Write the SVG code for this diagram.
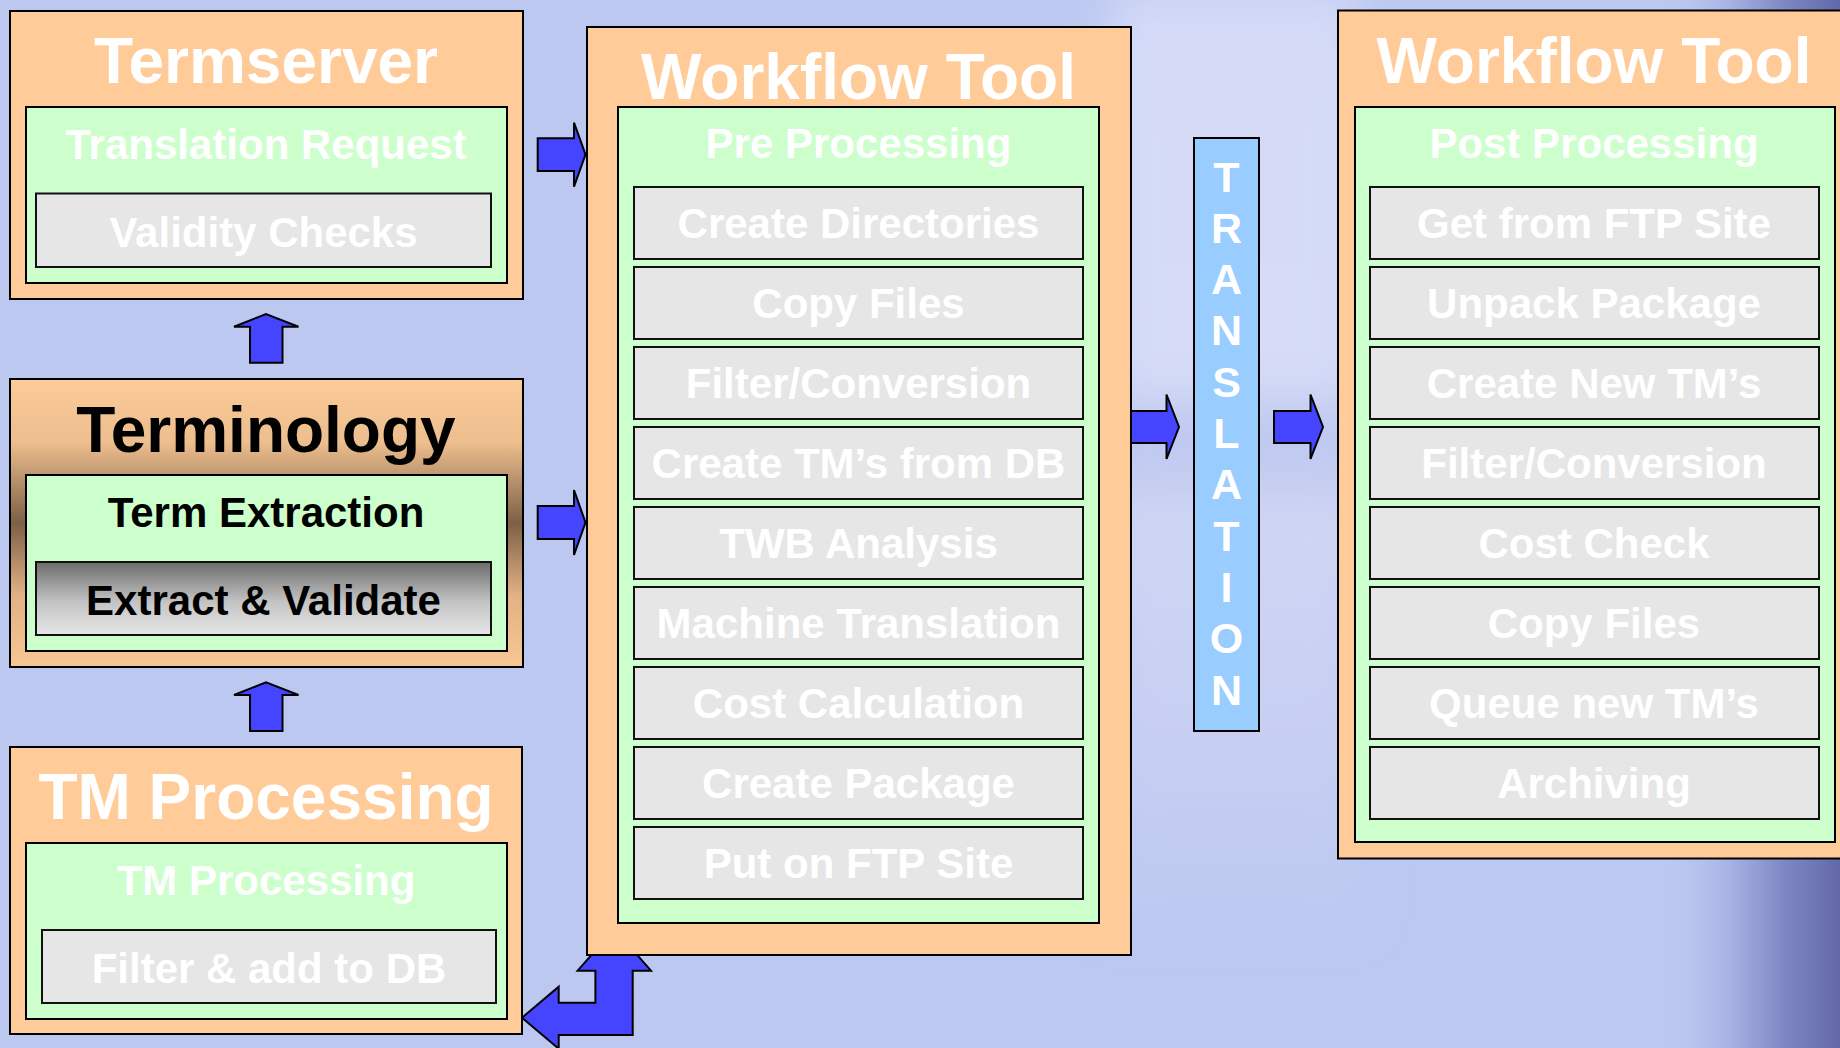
<svg xmlns="http://www.w3.org/2000/svg" width="1840" height="1048" viewBox="0 0 1840 1048">
  <defs>
    <style>
      text { font-family: "Liberation Sans", Arial, sans-serif; font-weight: bold; text-anchor: middle; }
      .outer { fill: #FFCC99; stroke: #000; stroke-width: 2; }
      .inner { fill: #CCFFCC; stroke: #000; stroke-width: 2; }
      .step { fill: #E6E6E6; stroke: #111; stroke-width: 2; }
      .title { font-size: 64px; fill: #FFFFFF; }
      .sub { font-size: 42px; fill: #FFFFFF; }
      .dark { fill: #000000; }
      .arrow { fill: #4545FF; stroke: #000; stroke-width: 2; stroke-linejoin: miter; }
      .vert { font-size: 43px; fill: #FFFFFF; }
    </style>
    <linearGradient id="termGrad" x1="0" y1="0" x2="0" y2="1">
      <stop offset="0" stop-color="#FBCB98"/>
      <stop offset="0.22" stop-color="#EDBE8E"/>
      <stop offset="0.5" stop-color="#7D6047"/>
      <stop offset="0.75" stop-color="#E2B184"/>
      <stop offset="1" stop-color="#F7C794"/>
    </linearGradient>
    <linearGradient id="extractGrad" x1="0" y1="0" x2="0" y2="1">
      <stop offset="0" stop-color="#6C6C6C"/>
      <stop offset="0.55" stop-color="#C4C4C4"/>
      <stop offset="1" stop-color="#E6E6E6"/>
    </linearGradient>
    <linearGradient id="skyBand" x1="0" y1="0" x2="0" y2="1">
      <stop offset="0" stop-color="#C8D0F4"/>
      <stop offset="0.04" stop-color="#D5DBF7"/>
      <stop offset="0.43" stop-color="#D6DCF7"/>
      <stop offset="0.47" stop-color="#BDC7EF"/>
      <stop offset="0.52" stop-color="#C2CAF0"/>
      <stop offset="0.57" stop-color="#D0D6F4"/>
      <stop offset="0.75" stop-color="#C9D0F3"/>
      <stop offset="1" stop-color="#BDC9F1"/>
    </linearGradient>
    <linearGradient id="edgeShade" x1="0" y1="0" x2="1" y2="0">
      <stop offset="0" stop-color="#BDC9F1" stop-opacity="0"/>
      <stop offset="0.4" stop-color="#A6B0E2"/>
      <stop offset="0.7" stop-color="#7E86C2"/>
      <stop offset="1" stop-color="#6369A8"/>
    </linearGradient>
    <filter id="soft" x="-30%" y="-10%" width="160%" height="120%">
      <feGaussianBlur stdDeviation="22"/>
    </filter>
  </defs>

  <!-- backdrop -->
  <g id="background">
    <rect x="0" y="0" width="1840" height="1048" fill="#BCC8F0"/>
    <rect x="1110" y="-20" width="250" height="940" fill="url(#skyBand)" filter="url(#soft)"/>
    <rect x="1660" y="0" width="180" height="1048" fill="url(#edgeShade)"/>
  </g>

  <!-- connectors -->
  <g id="connectors">
    <polygon class="arrow" points="537.7,138.3 574,138.3 574,122.7 585.5,154.5 574,186.7 574,171 537.7,171"/>
    <polygon class="arrow" points="537.7,506 574,506 574,490 585.5,522.5 574,555 574,539 537.7,539"/>
    <polygon class="arrow" points="250,362.7 250,326.7 234,326.7 266,314 298.5,326.7 282.5,326.7 282.5,362.7"/>
    <polygon class="arrow" points="250,731 250,695 234,695 266,682.3 298.5,695 282.5,695 282.5,731"/>
    <polygon class="arrow" points="1130,411 1166.5,411 1166.5,394.5 1179,427 1166.5,459 1166.5,443 1130,443"/>
    <polygon class="arrow" points="1274,411 1310.5,411 1310.5,394.5 1323,427 1310.5,459 1310.5,443 1274,443"/>
    <polygon class="arrow" points="522,1017.7 558.7,986.7 558.7,1002.7 595.4,1002.7 595.4,970.7 577.6,970.7 614.3,929 651,970.7 632.7,970.7 632.7,1035 558.7,1035 558.7,1048.7"/>
  </g>

  <g id="termserver">
    <rect class="outer" x="10" y="11" width="513" height="288"/>
    <text class="title" x="266" y="83">Termserver</text>
    <rect class="inner" x="26" y="107" width="481" height="176"/>
    <text class="sub" x="266" y="159">Translation Request</text>
    <rect class="step" x="36" y="193.5" width="455" height="73.5"/>
    <text class="sub" x="263.5" y="247">Validity Checks</text>
  </g>

  <g id="terminology">
    <rect x="10" y="379" width="513" height="288" fill="url(#termGrad)" stroke="#000" stroke-width="2"/>
    <text class="title dark" x="266" y="452">Terminology</text>
    <rect class="inner" x="26" y="475" width="481" height="176"/>
    <text class="sub dark" x="266" y="527">Term Extraction</text>
    <rect x="36" y="562" width="455" height="73" fill="url(#extractGrad)" stroke="#111" stroke-width="2"/>
    <text class="sub dark" x="263.5" y="615">Extract &amp; Validate</text>
  </g>

  <g id="tm-processing">
    <rect class="outer" x="10" y="747" width="512" height="287"/>
    <text class="title" x="266" y="819">TM Processing</text>
    <rect class="inner" x="26" y="843" width="481" height="176"/>
    <text class="sub" x="266" y="895">TM Processing</text>
    <rect class="step" x="42" y="930" width="454" height="73"/>
    <text class="sub" x="269" y="983">Filter &amp; add to DB</text>
  </g>

  <g id="workflow-pre">
    <rect class="outer" x="587" y="27" width="544" height="928"/>
    <text class="title" x="858.5" y="99">Workflow Tool</text>
    <rect class="inner" x="618" y="107" width="481" height="816"/>
    <text class="sub" x="858.5" y="158">Pre Processing</text>
    <rect class="step" x="634" y="187" width="449" height="72"/>
    <text class="sub" x="858.5" y="238">Create Directories</text>
    <rect class="step" x="634" y="267" width="449" height="72"/>
    <text class="sub" x="858.5" y="318">Copy Files</text>
    <rect class="step" x="634" y="347" width="449" height="72"/>
    <text class="sub" x="858.5" y="398">Filter/Conversion</text>
    <rect class="step" x="634" y="427" width="449" height="72"/>
    <text class="sub" x="858.5" y="478">Create TM’s from DB</text>
    <rect class="step" x="634" y="507" width="449" height="72"/>
    <text class="sub" x="858.5" y="558">TWB Analysis</text>
    <rect class="step" x="634" y="587" width="449" height="72"/>
    <text class="sub" x="858.5" y="638">Machine Translation</text>
    <rect class="step" x="634" y="667" width="449" height="72"/>
    <text class="sub" x="858.5" y="718">Cost Calculation</text>
    <rect class="step" x="634" y="747" width="449" height="72"/>
    <text class="sub" x="858.5" y="798">Create Package</text>
    <rect class="step" x="634" y="827" width="449" height="72"/>
    <text class="sub" x="858.5" y="878">Put on FTP Site</text>
  </g>

  <g id="translation">
    <rect x="1194" y="138" width="65" height="593" fill="#99CCFF" stroke="#000" stroke-width="2"/>
    <text class="vert" x="1226.5" y="191.5">T</text>
    <text class="vert" x="1226.5" y="242.8">R</text>
    <text class="vert" x="1226.5" y="294.1">A</text>
    <text class="vert" x="1226.5" y="345.4">N</text>
    <text class="vert" x="1226.5" y="396.7">S</text>
    <text class="vert" x="1226.5" y="448">L</text>
    <text class="vert" x="1226.5" y="499.3">A</text>
    <text class="vert" x="1226.5" y="550.6">T</text>
    <text class="vert" x="1226.5" y="601.9">I</text>
    <text class="vert" x="1226.5" y="653.2">O</text>
    <text class="vert" x="1226.5" y="704.5">N</text>
  </g>

  <g id="workflow-post">
    <rect class="outer" x="1338" y="10.5" width="520" height="848"/>
    <text class="title" x="1594" y="83">Workflow Tool</text>
    <rect class="inner" x="1355" y="107" width="480" height="735"/>
    <text class="sub" x="1594" y="158">Post Processing</text>
    <rect class="step" x="1370" y="187" width="449" height="72"/>
    <text class="sub" x="1594" y="238">Get from FTP Site</text>
    <rect class="step" x="1370" y="267" width="449" height="72"/>
    <text class="sub" x="1594" y="318">Unpack Package</text>
    <rect class="step" x="1370" y="347" width="449" height="72"/>
    <text class="sub" x="1594" y="398">Create New TM’s</text>
    <rect class="step" x="1370" y="427" width="449" height="72"/>
    <text class="sub" x="1594" y="478">Filter/Conversion</text>
    <rect class="step" x="1370" y="507" width="449" height="72"/>
    <text class="sub" x="1594" y="558">Cost Check</text>
    <rect class="step" x="1370" y="587" width="449" height="72"/>
    <text class="sub" x="1594" y="638">Copy Files</text>
    <rect class="step" x="1370" y="667" width="449" height="72"/>
    <text class="sub" x="1594" y="718">Queue new TM’s</text>
    <rect class="step" x="1370" y="747" width="449" height="72"/>
    <text class="sub" x="1594" y="798">Archiving</text>
  </g>
</svg>
